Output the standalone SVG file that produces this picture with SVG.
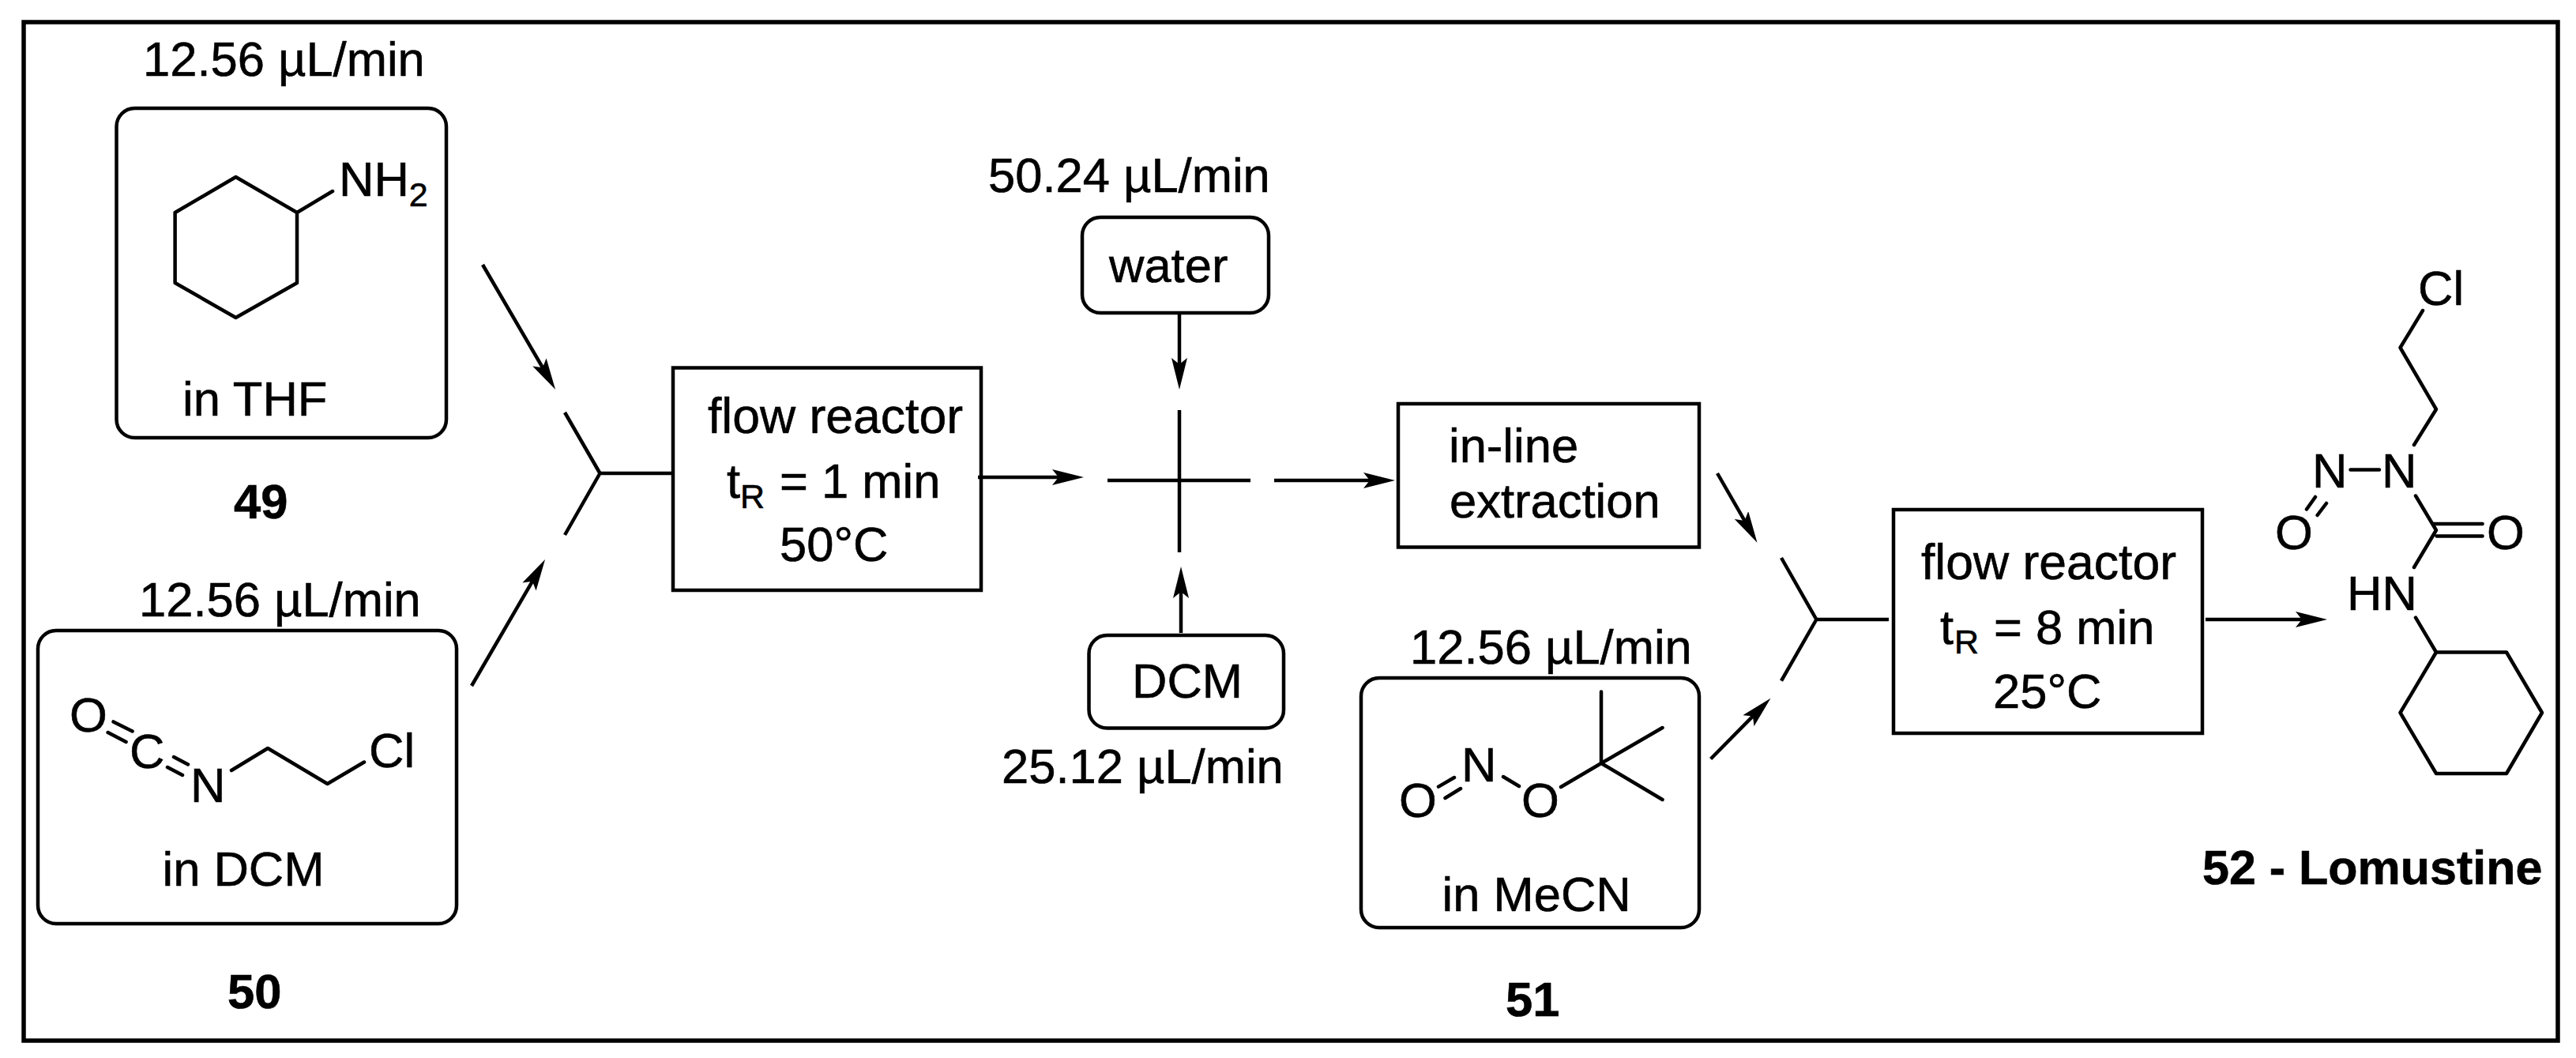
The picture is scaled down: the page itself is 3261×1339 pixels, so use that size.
<svg xmlns="http://www.w3.org/2000/svg" width="3261" height="1339" viewBox="0 0 3261 1339">
<style>
text{font-family:"Liberation Sans",Arial,sans-serif;font-size:61.5px;fill:#000;stroke:#000;stroke-width:.6}
.b{font-weight:bold}
.s{font-size:43px}
.r{font-size:62.5px}
.l{font-size:61px}
.box{fill:none;stroke:#000;stroke-width:4.5}
.bond{fill:none;stroke:#000;stroke-width:4.5;stroke-linejoin:round;stroke-linecap:round}
.conn{fill:none;stroke:#000;stroke-width:4.5;stroke-linejoin:round}
.arr{marker-end:url(#ah)}
</style>
<defs>
<marker id="ah" markerUnits="userSpaceOnUse" markerWidth="40" markerHeight="20" viewBox="0 0 40 20" refX="20" refY="10" orient="auto"><path d="M0,0L40,10L0,20L8,10Z" fill="#000"/></marker>
</defs>
<rect width="3261" height="1339" fill="#fff"/>
<rect id="frame" x="30" y="28" width="3208" height="1289" fill="none" stroke="#000" stroke-width="5.5"/>
<g id="connectors">
<path class="conn arr" d="M611,335L693,475.7"/>
<path class="conn arr" d="M597,868L680,725.3"/>
<path class="conn" d="M715,522L759.5,599L715,677M759.5,599H852"/>
<path class="conn arr" d="M1238,604H1352"/>
<path class="conn arr" d="M1493,396V473"/>
<path class="conn arr" d="M1495,801V737"/>
<path class="conn" d="M1493,519V699M1402,608H1583"/>
<path class="conn arr" d="M1613,608H1746"/>
<path class="conn arr" d="M2174,599L2214.5,669.4"/>
<path class="conn arr" d="M2165.6,960.5L2227.4,897.9"/>
<path class="conn" d="M2255,706L2299.4,784L2255,861.7M2299.4,784H2391"/>
<path class="conn arr" d="M2792,784H2926"/>
</g>
<g id="node-49">
<text x="181" y="96">12.56 µL/min</text>
<rect class="box" x="147.5" y="137" width="417.5" height="417" rx="23"/>
<path class="bond" d="M298.5,224L376,269V358L298.5,402L221.6,358V269ZM376,269L421,242"/>
<text x="429" y="248">NH<tspan class="s" dy="13">2</tspan></text>
<text x="231" y="525.5">in THF</text>
<text class="b" x="296" y="656">49</text>
</g>
<g id="node-50">
<text x="176" y="780">12.56 µL/min</text>
<rect class="box" x="48" y="798" width="530" height="371" rx="23"/>
<text x="88" y="926">O</text>
<text x="164" y="972">C</text>
<text x="241" y="1015">N</text>
<text x="467" y="971">Cl</text>
<path class="bond" d="M143.5,913.4L167.6,925.5M136.6,927L159.6,939M220,958L238,967.5M212,971L231,981M293,975L339,947L414.5,992L461,964.5"/>
<text x="205.5" y="1121">in DCM</text>
<text class="b" x="288" y="1276">50</text>
</g>
<g id="node-reactor-1">
<rect class="box" x="852" y="465.5" width="390" height="281.5"/>
<text class="r" x="896" y="548">flow reactor</text>
<text x="920" y="630">t</text>
<text class="s" x="937" y="643">R</text>
<text x="987" y="630">= 1 min</text>
<text x="987" y="710">50°C</text>
</g>
<g id="node-water">
<text x="1251" y="243">50.24 µL/min</text>
<rect class="box" x="1370" y="275" width="236" height="121" rx="23"/>
<text x="1404" y="357">water</text>
</g>
<g id="node-dcm">
<rect class="box" x="1378.5" y="804" width="246.5" height="117.5" rx="23"/>
<text x="1433" y="883">DCM</text>
<text x="1268" y="991">25.12 µL/min</text>
</g>
<g id="node-extraction">
<rect class="box" x="1770" y="511" width="381" height="181.5"/>
<text x="1834" y="585">in-line</text>
<text x="1835" y="655">extraction</text>
</g>
<g id="node-51">
<text x="1785" y="840">12.56 µL/min</text>
<rect class="box" x="1723" y="858" width="428" height="316" rx="23"/>
<text x="1771" y="1034">O</text>
<text x="1850" y="989">N</text>
<text x="1926" y="1034">O</text>
<path class="bond" d="M1821,995.6L1841,984M1829.5,1010L1849,998M1903,983L1923,995M1976,996L2027,966M2027,875.6V966L2104.5,921M2027,966L2104.5,1012"/>
<text x="1825.5" y="1153">in MeCN</text>
<text class="b" x="1906" y="1285.5">51</text>
</g>
<g id="node-reactor-2">
<rect class="box" x="2397" y="645" width="391" height="283"/>
<text class="r" x="2432" y="733">flow reactor</text>
<text x="2456" y="815">t</text>
<text class="s" x="2474" y="827">R</text>
<text x="2524" y="815">= 8 min</text>
<text x="2523" y="895.5">25°C</text>
</g>
<g id="node-52">
<text x="3061" y="386">Cl</text>
<text x="3015" y="617">N</text>
<text x="2927" y="617">N</text>
<text x="2880" y="695">O</text>
<text x="3148" y="695">O</text>
<text x="2971" y="772">HN</text>
<path class="bond" d="M3067,393L3038.5,440L3084,518L3056,563M2975.5,594.5H3012M2931,629L2920,644.5M2945,637L2933.6,652M3058,627.5L3084,671L3056,718M3081,663H3142.6M3084.6,678.5H3142.6M3058,781.6L3084,825.5M3084,825.5H3173L3218,902L3173,979H3084L3038.5,902Z"/>
<text class="b l" x="2788" y="1119">52 - Lomustine</text>
</g>
</svg>
